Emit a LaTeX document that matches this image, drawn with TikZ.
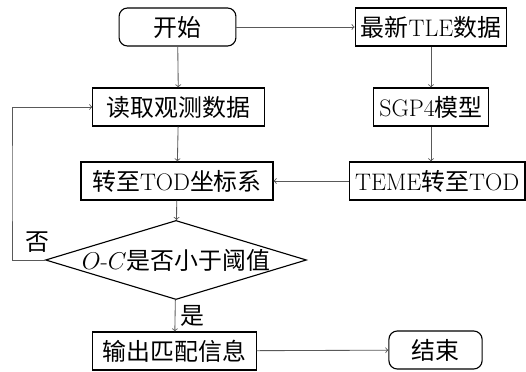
\documentclass[tikz,border=0pt]{standalone}
\usepackage{fontspec}
\newfontfamily\cjk{Noto Sans CJK SC}
\usepackage{tikz}
\usetikzlibrary{shapes.geometric}

\begin{document}
\begin{tikzpicture}[x=0.025cm, y=-0.025cm,
	every node/.style={font=\fontsize{17}{20}\selectfont},
	proc/.style={draw, thick, minimum height=0.95cm, inner sep=4pt},
	term/.style={proc, rounded corners=6pt},
	test/.style={draw, thick, diamond, aspect=3.3, inner sep=0pt},
	line/.style={draw=black!65, semithick}]

	\useasboundingbox (0, 0) rectangle (526, 372);

	\node[term, minimum width=2.92cm] (start) at (177.5, 27) {\cjk 开始};
	\node[proc] (tle) at (431, 27) {{\cjk 最新}TLE{\cjk 数据}};
	\node[proc, minimum width=4.28cm] (read) at (178.5, 107) {\cjk 读取观测数据};
	\node[proc] (sgp) at (431, 107) {SGP4{\cjk 模型}};
	\node[proc, minimum width=4.8cm] (tod) at (177, 181) {{\cjk 转至}TOD{\cjk 坐标系}};
	\node[proc, anchor=east] (teme) at (525.5, 181) {TEME{\cjk 转至}TOD};
	\node[test] (cmp) at (176, 260) {$O$-$C${\cjk 是否小于阈值}};
	\node[proc, minimum width=4.08cm] (out) at (174.5, 351) {\cjk 输出匹配信息};
	\node[term, minimum width=2.33cm] (stop) at (435.5, 350) {\cjk 结束};

	\coordinate (loop) at (12, 183);

	\draw[line, ->] (start) -- (read);
	\draw[line, ->] (start) -- (tle);
	\draw[line, ->] (tle) -- (sgp);
	\draw[line, ->] (sgp) -- (sgp |- teme.north);
	\draw[line, ->] (teme) -- (tod);
	\draw[line, ->] (read) -- (tod);
	\draw[line, ->] (tod) -- (cmp);
	\draw[line, ->] (cmp) -- (out) node[midway, right] {\cjk 是};
	\draw[line, ->] (cmp.west) -| (loop) |- (read.west);
	\draw[line, ->] (out) -- (stop);

	\node (no) at (37, 242) {\cjk 否};

\end{tikzpicture}
\end{document}
